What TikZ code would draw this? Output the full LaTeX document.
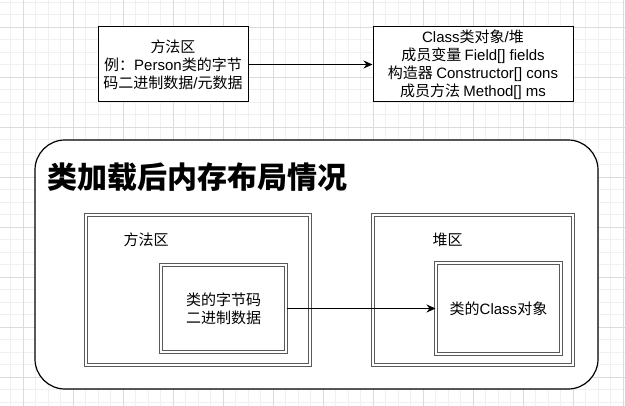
\documentclass[tikz,border=0pt]{standalone}
\usepackage{fontspec}
\setmainfont{Noto Sans CJK SC}
\newfontfamily\lat{Liberation Sans}
\usetikzlibrary{arrows.meta}
\tikzset{
  plainbox/.style={draw=black, line width=1pt, fill=white, align=center, inner sep=0pt},
  dblbox/.style={draw=black!65, double=white, double distance=1.6pt, line width=1pt, fill=white, inner sep=0pt, align=center},
  lbl/.style={inner sep=0pt, align=center, font=\fontsize{15}{18}\selectfont},
  conn/.style={draw=black, line width=1pt, -{Stealth[length=9pt,width=8pt]}},
}
\begin{document}
\begin{tikzpicture}[x=1pt,y=-1pt]
\useasboundingbox (0,0) rectangle (625,406);
\fill[white] (0,0) rectangle (625,406);
% grid
\foreach \i in {0,...,50} {
  \draw[black!6, line width=0.6pt] ({-2+12.5*\i},0) -- ({-2+12.5*\i},406);
  \draw[black!6, line width=0.6pt] (0,{2+12.5*\i}) -- (625,{2+12.5*\i});
}
\foreach \i in {0,...,12} {
  \draw[black!14, line width=0.7pt] ({23+50*\i},0) -- ({23+50*\i},406);
  \draw[black!14, line width=0.7pt] (0,{27+50*\i}) -- (625,{27+50*\i});
}
% top boxes
\node[plainbox, minimum width=150pt, minimum height=75pt, font=\fontsize{15}{18}\selectfont] (t1) at (173,64.5)
  {方法区\\例：{\lat Person}类的字节\\码二进制数据{\lat /}元数据};
\node[plainbox, minimum width=200pt, minimum height=75pt, font=\fontsize{15}{18}\selectfont] (t2) at (473,64.5)
  {{\lat Class}类对象{\lat /}堆\\成员变量 {\lat Field[] fields}\\构造器 {\lat Constructor[] cons}\\成员方法 {\lat Method[] ms}};
\draw[conn] (t1.east) -- (t2.west);
% big container
\node[draw=black, line width=1.2pt, fill=white, rounded corners=30pt, minimum width=563pt, minimum height=249pt, inner sep=0pt] (big) at (316.5,264.5) {};
\node[anchor=west, inner sep=0pt, font=\fontsize{30}{36}\selectfont\bfseries] (title) at (47,177) {类加载后内存布局情况};
% method area
\node[dblbox, minimum width=224pt, minimum height=150pt] (mo) at (198,290) {};
\node[lbl] (mol) at (146,240) {方法区};
\node[dblbox, minimum width=125pt, minimum height=87pt, font=\fontsize{15}{18}\selectfont] (mi) at (223.5,308.5) {类的字节码\\二进制数据};
% heap
\node[dblbox, minimum width=200pt, minimum height=150pt] (ho) at (473,290) {};
\node[lbl] (hol) at (447.5,240) {堆区};
\node[dblbox, minimum width=125pt, minimum height=91pt, font=\fontsize{15}{18}\selectfont] (hi) at (498.5,308.5) {类的{\lat Class}对象};
\draw[conn] (mi.east) -- (hi.west);
\end{tikzpicture}
\end{document}
